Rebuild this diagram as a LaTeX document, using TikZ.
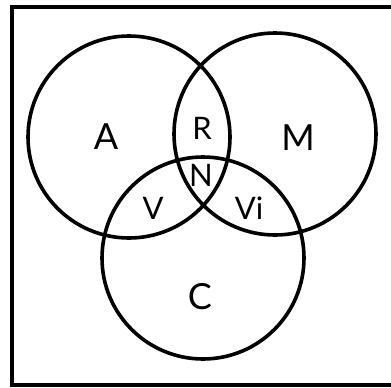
\documentclass[tikz,border=0pt]{standalone}
\usepackage{fontspec}
\setmainfont{Lato}
\begin{document}
\begin{tikzpicture}[x=1pt,y=-1pt,
  setcircle/.style={draw=black,line width=3.6pt,circle,minimum size=202pt,inner sep=0pt},
  lbl/.style={font=\fontsize{36}{36}\selectfont,text=black,inner sep=0pt},
  smalllbl/.style={font=\fontsize{31}{31}\selectfont,text=black,inner sep=0pt},
  frameline/.style={line width=4pt,line cap=rect}]
\useasboundingbox (0,0) rectangle (391,388);
\fill[white] (0,0) rectangle (391,388);
\coordinate (tr) at (391,7);
\coordinate (tl) at (12,7);
\coordinate (bl) at (12,385);
\coordinate (br) at (391,385);
\draw[frameline] (tr) -- (tl) -- (bl) -- (br);
\node[setcircle] (A) at (129,137) {};
\node[setcircle] (M) at (275,134) {};
\node[setcircle] (C) at (203,258) {};
\node[lbl] (lA) at (106,137) {A};
\node[lbl] (lM) at (298,138) {M};
\node[lbl] (lC) at (200,297) {C};
\node[smalllbl] (lR) at (202,128) {R};
\node[smalllbl] (lN) at (201,175) {N};
\node[smalllbl] (lV) at (153,208) {V};
\node[smalllbl] (lVi) at (249,208) {Vi};
\end{tikzpicture}
\end{document}
